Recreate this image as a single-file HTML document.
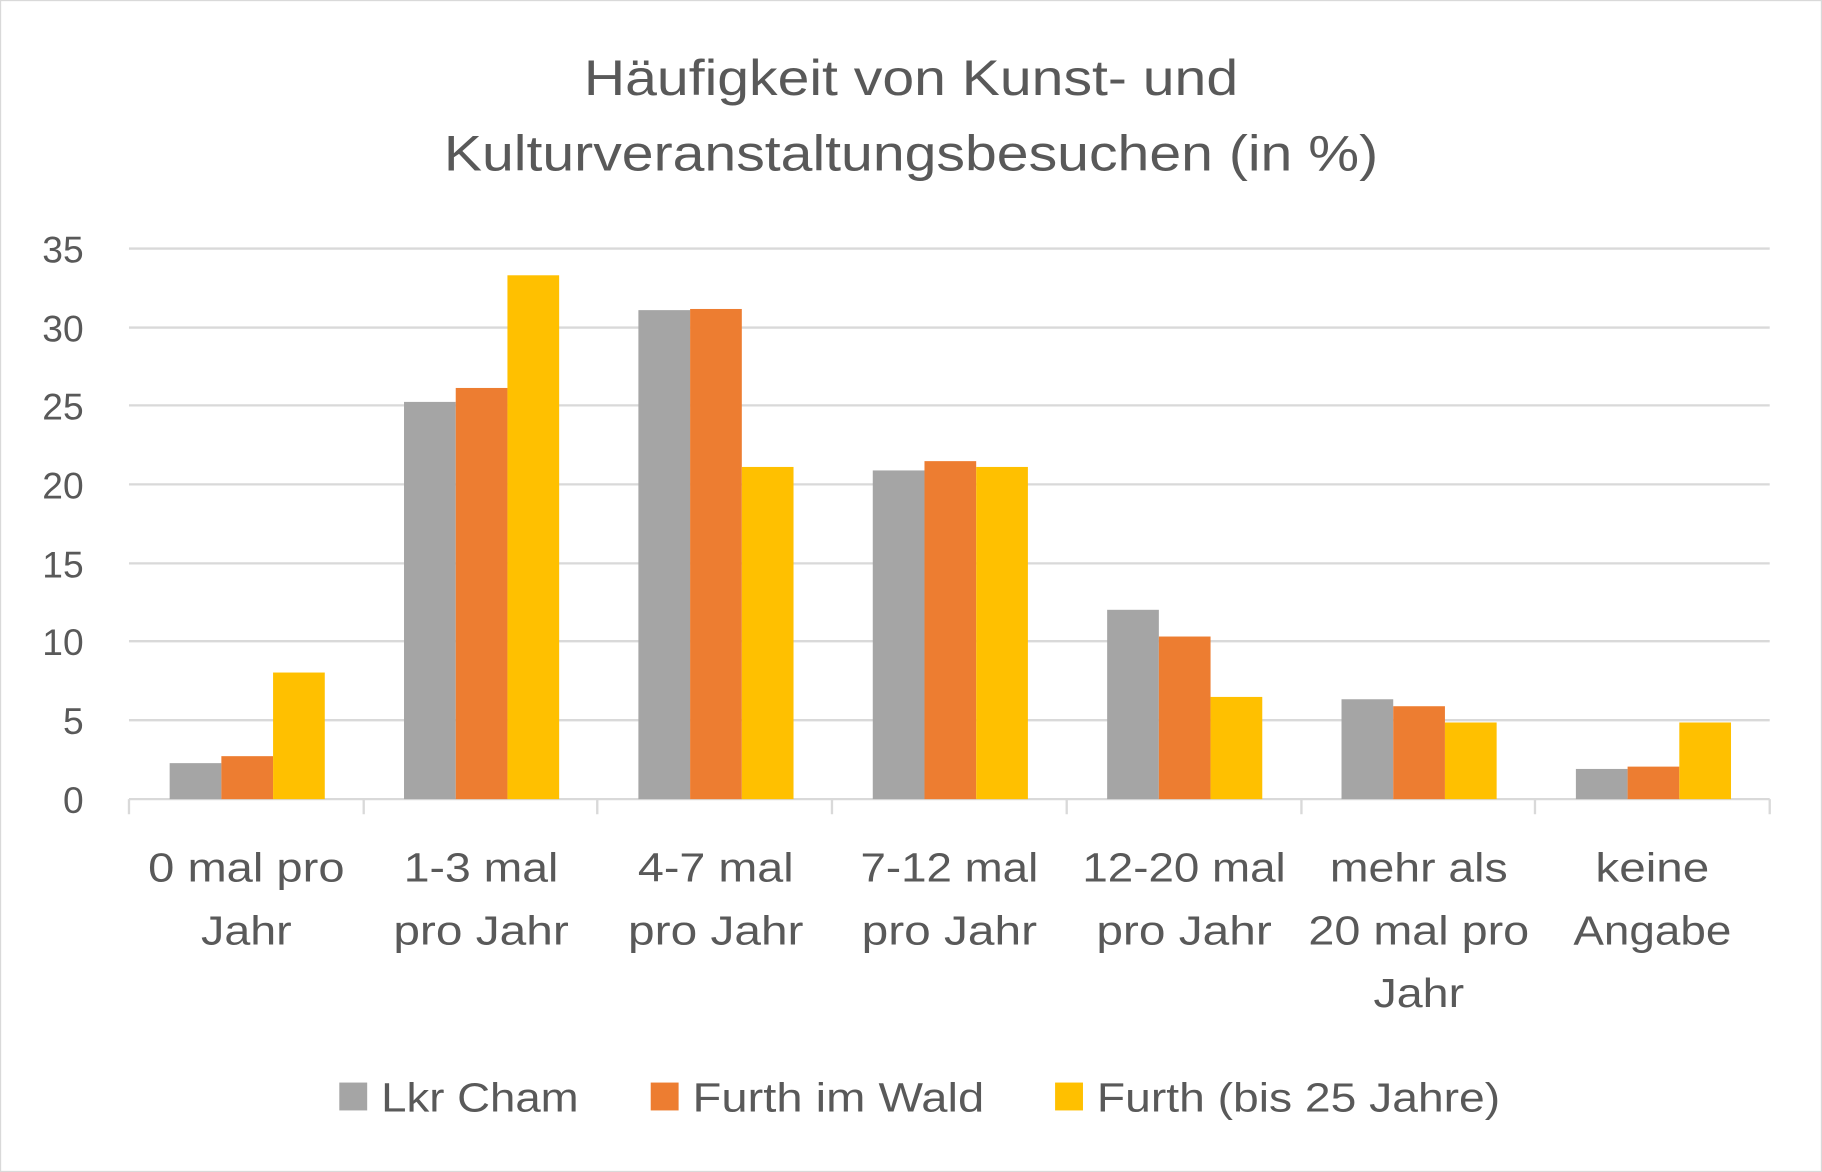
<!DOCTYPE html>
<html><head><meta charset="utf-8"><style>
html,body{margin:0;padding:0;background:#fff}
svg{display:block}
text{font-family:"Liberation Sans",sans-serif;fill:#595959}
</style></head><body>
<svg width="1822" height="1172" viewBox="0 0 1568 1009" preserveAspectRatio="none" xmlns="http://www.w3.org/2000/svg">
<rect x="0.5" y="0.5" width="1567" height="1008" fill="#fff" stroke="#d9d9d9"/>
<text x="784" y="82" font-size="43" text-anchor="middle" textLength="563" lengthAdjust="spacingAndGlyphs">Häufigkeit von Kunst- und</text>
<text x="784" y="147" font-size="43" text-anchor="middle" textLength="804" lengthAdjust="spacingAndGlyphs">Kulturveranstaltungsbesuchen (in %)</text>
<g stroke="#d9d9d9" stroke-width="2">
<line x1="111" x2="1523" y1="214" y2="214"/><line x1="111" x2="1523" y1="282" y2="282"/>
<line x1="111" x2="1523" y1="349" y2="349"/><line x1="111" x2="1523" y1="417" y2="417"/>
<line x1="111" x2="1523" y1="485" y2="485"/><line x1="111" x2="1523" y1="552" y2="552"/>
<line x1="111" x2="1523" y1="620" y2="620"/><line x1="111" x2="1523" y1="688" y2="688"/>
<line x1="111" x2="111" y1="688" y2="701"/><line x1="313" x2="313" y1="688" y2="701"/>
<line x1="514" x2="514" y1="688" y2="701"/><line x1="716" x2="716" y1="688" y2="701"/>
<line x1="918" x2="918" y1="688" y2="701"/><line x1="1120" x2="1120" y1="688" y2="701"/>
<line x1="1321" x2="1321" y1="688" y2="701"/><line x1="1523" x2="1523" y1="688" y2="701"/>
</g>
<g font-size="32" text-anchor="end">
<text x="72" y="226">35</text><text x="72" y="294">30</text><text x="72" y="361">25</text>
<text x="72" y="429">20</text><text x="72" y="497">15</text><text x="72" y="564">10</text>
<text x="72" y="632">5</text><text x="72" y="700">0</text>
</g>
<g>
<rect x="146" y="657" width="44.5" height="31" fill="#a5a5a5"/><rect x="190.5" y="651" width="44.5" height="37" fill="#ed7d31"/><rect x="235" y="579" width="44.5" height="109" fill="#ffc000"/>
<rect x="347.7" y="346" width="44.5" height="342" fill="#a5a5a5"/><rect x="392.2" y="334" width="44.5" height="354" fill="#ed7d31"/><rect x="436.7" y="237" width="44.5" height="451" fill="#ffc000"/>
<rect x="549.4" y="267" width="44.5" height="421" fill="#a5a5a5"/><rect x="593.9" y="266" width="44.5" height="422" fill="#ed7d31"/><rect x="638.4" y="402" width="44.5" height="286" fill="#ffc000"/>
<rect x="751.1" y="405" width="44.5" height="283" fill="#a5a5a5"/><rect x="795.6" y="397" width="44.5" height="291" fill="#ed7d31"/><rect x="840.1" y="402" width="44.5" height="286" fill="#ffc000"/>
<rect x="952.8" y="525" width="44.5" height="163" fill="#a5a5a5"/><rect x="997.3" y="548" width="44.5" height="140" fill="#ed7d31"/><rect x="1041.8" y="600" width="44.5" height="88" fill="#ffc000"/>
<rect x="1154.5" y="602" width="44.5" height="86" fill="#a5a5a5"/><rect x="1199" y="608" width="44.5" height="80" fill="#ed7d31"/><rect x="1243.5" y="622" width="44.5" height="66" fill="#ffc000"/>
<rect x="1356.2" y="662" width="44.5" height="26" fill="#a5a5a5"/><rect x="1400.7" y="660" width="44.5" height="28" fill="#ed7d31"/><rect x="1445.2" y="622" width="44.5" height="66" fill="#ffc000"/>
</g>
<g font-size="35" text-anchor="middle" lengthAdjust="spacingAndGlyphs">
<text x="212" y="759" textLength="169" lengthAdjust="spacingAndGlyphs">0 mal pro</text><text x="212" y="813" textLength="78" lengthAdjust="spacingAndGlyphs">Jahr</text>
<text x="414" y="759" textLength="133" lengthAdjust="spacingAndGlyphs">1-3 mal</text><text x="414" y="813" textLength="151" lengthAdjust="spacingAndGlyphs">pro Jahr</text>
<text x="616" y="759" textLength="134" lengthAdjust="spacingAndGlyphs">4-7 mal</text><text x="616" y="813" textLength="151" lengthAdjust="spacingAndGlyphs">pro Jahr</text>
<text x="817" y="759" textLength="153" lengthAdjust="spacingAndGlyphs">7-12 mal</text><text x="817" y="813" textLength="151" lengthAdjust="spacingAndGlyphs">pro Jahr</text>
<text x="1019" y="759" textLength="175" lengthAdjust="spacingAndGlyphs">12-20 mal</text><text x="1019" y="813" textLength="151" lengthAdjust="spacingAndGlyphs">pro Jahr</text>
<text x="1221" y="759" textLength="153" lengthAdjust="spacingAndGlyphs">mehr als</text><text x="1221" y="813" textLength="190" lengthAdjust="spacingAndGlyphs">20 mal pro</text><text x="1221" y="867" textLength="78" lengthAdjust="spacingAndGlyphs">Jahr</text>
<text x="1422" y="759" textLength="98" lengthAdjust="spacingAndGlyphs">keine</text><text x="1422" y="813" textLength="136" lengthAdjust="spacingAndGlyphs">Angabe</text>
</g>
<rect x="292" y="932" width="24" height="24" fill="#a5a5a5"/>
<text x="328" y="957" font-size="35" textLength="170" lengthAdjust="spacingAndGlyphs">Lkr Cham</text>
<rect x="560" y="932" width="24" height="24" fill="#ed7d31"/>
<text x="596" y="957" font-size="35" textLength="251" lengthAdjust="spacingAndGlyphs">Furth im Wald</text>
<rect x="908" y="932" width="24" height="24" fill="#ffc000"/>
<text x="944" y="957" font-size="35" textLength="347" lengthAdjust="spacingAndGlyphs">Furth (bis 25 Jahre)</text>
</svg>
</body></html>
